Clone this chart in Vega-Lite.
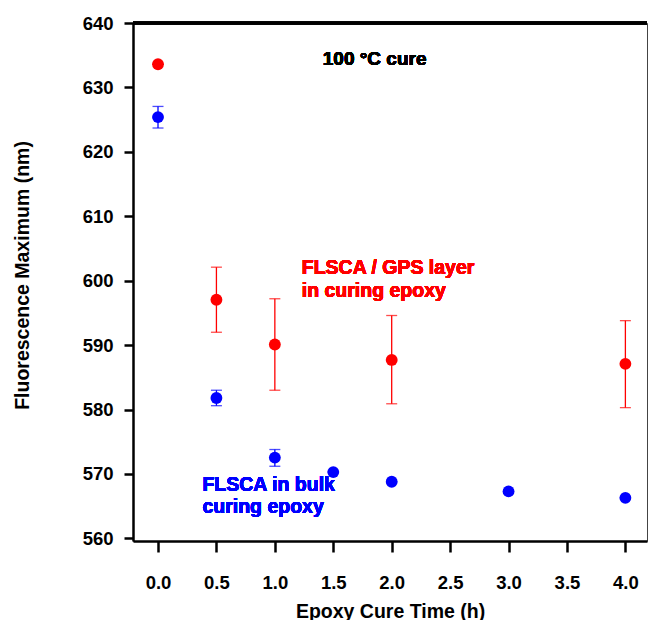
{
  "$schema": "https://vega.github.io/schema/vega-lite/v6.json",
  "width": 514,
  "height": 518,
  "autosize": {"type": "none"},
  "padding": {"left": 133, "top": 23, "right": 1, "bottom": 79},
  "background": "white",
  "config": {
    "view": {"stroke": "#444444", "strokeWidth": 1},
    "font": "Liberation Sans",
    "axis": {
      "grid": false,
      "domainColor": "black",
      "domainWidth": 2.5,
      "tickColor": "black",
      "tickWidth": 2.5,
      "labelFont": "Liberation Sans",
      "labelFontSize": 18.5,
      "labelFontWeight": "bold",
      "labelColor": "black",
      "titleFont": "Liberation Sans",
      "titleFontSize": 19.5,
      "titleFontWeight": "bold",
      "titleColor": "black"
    }
  },
  "data": {
    "values": [
      {"t": 0.0, "v": 633.6, "lo": 633.6, "hi": 633.6, "series": "FLSCA / GPS layer"},
      {"t": 0.5, "v": 597.05, "lo": 592.0, "hi": 602.1, "series": "FLSCA / GPS layer"},
      {"t": 1.0, "v": 590.1, "lo": 583.0, "hi": 597.2, "series": "FLSCA / GPS layer"},
      {"t": 2.0, "v": 587.7, "lo": 580.9, "hi": 594.6, "series": "FLSCA / GPS layer"},
      {"t": 4.0, "v": 587.1, "lo": 580.3, "hi": 593.8, "series": "FLSCA / GPS layer"},
      {"t": 0.0, "v": 625.4, "lo": 623.7, "hi": 627.05, "series": "FLSCA in bulk"},
      {"t": 0.5, "v": 581.8, "lo": 580.6, "hi": 583.0, "series": "FLSCA in bulk"},
      {"t": 1.0, "v": 572.55, "lo": 571.2, "hi": 573.8, "series": "FLSCA in bulk"},
      {"t": 1.5, "v": 570.3, "lo": 570.3, "hi": 570.3, "series": "FLSCA in bulk"},
      {"t": 2.0, "v": 568.8, "lo": 568.8, "hi": 568.8, "series": "FLSCA in bulk"},
      {"t": 3.0, "v": 567.3, "lo": 567.3, "hi": 567.3, "series": "FLSCA in bulk"},
      {"t": 4.0, "v": 566.3, "lo": 566.3, "hi": 566.3, "series": "FLSCA in bulk"}
    ]
  },
  "encoding": {
    "x": {
      "field": "t", "type": "quantitative",
      "scale": {"domain": [-0.214, 4.185], "nice": false, "zero": false},
      "axis": {"values": [0, 0.5, 1, 1.5, 2, 2.5, 3, 3.5, 4], "format": ".1f", "title": "Epoxy Cure Time (h)", "tickSize": 11, "labelPadding": 21, "titleBaseline": "alphabetic", "titleY": 76}
    }
  },
  "layer": [
    {
      "mark": {"type": "rule", "strokeWidth": 2.5, "color": "black"},
      "encoding": {
        "x": null,
        "y": {"datum": 640, "type": "quantitative", "scale": {"domain": [559.6, 640], "nice": false, "zero": false},
          "axis": {"values": [560, 570, 580, 590, 600, 610, 620, 630, 640], "title": "Fluorescence Maximum (nm)", "tickSize": 9, "labelPadding": 11, "titleBaseline": "alphabetic", "titleX": -105, "titleY": 252}}
      }
    },
    {
      "mark": {"type": "rule", "strokeWidth": 1.3},
      "encoding": {
        "y": {"field": "lo", "type": "quantitative"},
        "y2": {"field": "hi"},
        "color": {"field": "series", "type": "nominal", "scale": {"domain": ["FLSCA / GPS layer", "FLSCA in bulk"], "range": ["#ff0000", "#0000ff"]}, "legend": null}
      }
    },
    {
      "mark": {"type": "tick", "orient": "horizontal", "size": 11, "thickness": 1.3},
      "encoding": {
        "y": {"field": "lo", "type": "quantitative"},
        "color": {"field": "series", "type": "nominal", "legend": null}
      }
    },
    {
      "mark": {"type": "tick", "orient": "horizontal", "size": 11, "thickness": 1.3},
      "encoding": {
        "y": {"field": "hi", "type": "quantitative"},
        "color": {"field": "series", "type": "nominal", "legend": null}
      }
    },
    {
      "mark": {"type": "circle", "size": 140, "opacity": 1},
      "encoding": {
        "y": {"field": "v", "type": "quantitative"},
        "color": {"field": "series", "type": "nominal", "legend": null}
      }
    },
    {
      "mark": {"type": "text", "align": "center", "baseline": "alphabetic", "fontSize": 19, "fontWeight": "bold", "fill": "black", "font": "Liberation Sans"},
      "encoding": {"x": {"datum": 1.854}, "y": {"datum": 633.5}, "text": {"value": "100 °C cure"}}
    },
    {
      "mark": {"type": "text", "align": "left", "baseline": "alphabetic", "fontSize": 19.5, "fontWeight": "bold", "lineHeight": 23, "fill": "#ff0000", "font": "Liberation Sans"},
      "encoding": {"x": {"datum": 1.23}, "y": {"datum": 601.1}, "text": {"value": ["FLSCA / GPS layer", "in curing epoxy"]}}
    },
    {
      "mark": {"type": "text", "align": "left", "baseline": "alphabetic", "fontSize": 19.5, "fontWeight": "bold", "lineHeight": 22, "fill": "#0000ff", "font": "Liberation Sans"},
      "encoding": {"x": {"datum": 0.38}, "y": {"datum": 567.3}, "text": {"value": ["FLSCA in bulk", "curing epoxy"]}}
    }
  ]
}
